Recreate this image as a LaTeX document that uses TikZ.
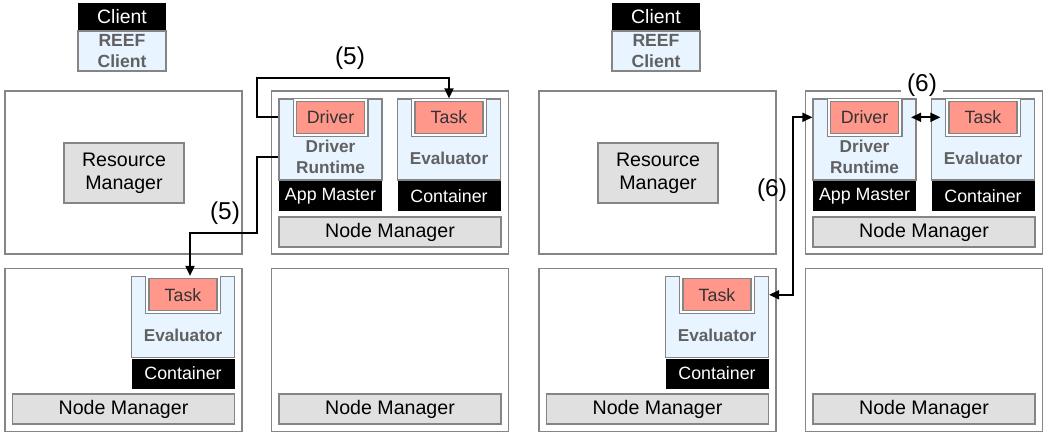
\documentclass[tikz,border=0pt]{standalone}
\usepackage{fontspec}
\setmainfont{Liberation Sans}
\usepackage{xcolor}
\usetikzlibrary{arrows.meta}

\definecolor{paleblue}{HTML}{E8F4FF}
\definecolor{salmon}{HTML}{FF978B}
\definecolor{bargrey}{HTML}{E0E0E0}
\definecolor{edgegrey}{HTML}{858585}
\definecolor{labelgrey}{HTML}{616161}
\definecolor{inkgrey}{HTML}{333333}

\begin{document}
\begin{tikzpicture}[x=0.5pt, y=-0.5pt,
  every node/.style={inner sep=0pt},
  host/.style={draw=edgegrey, line width=0.6pt, fill=white, minimum width=118.5pt, minimum height=81.5pt},
  mgr/.style={draw=edgegrey, line width=0.6pt, fill=bargrey, align=center, font=\fontsize{9.8}{11.5}\selectfont},
  nmbar/.style={mgr, minimum width=111pt, minimum height=15pt},
  column/.style={draw=edgegrey, line width=0.6pt, fill=paleblue, minimum width=51.5pt, minimum height=40.5pt},
  header/.style={fill=black, text=white, minimum width=51.5pt, minimum height=15pt, font=\fontsize{8.9}{10}\selectfont},
  slot/.style={fill=white, minimum width=37pt, minimum height=18.5pt},
  slotedge/.style={draw=edgegrey, line width=0.6pt},
  proc/.style={draw=edgegrey, line width=0.6pt, fill=salmon, text=inkgrey, minimum width=34pt, minimum height=16pt, font=\fontsize{8.9}{10}\selectfont},
  tag/.style={text=labelgrey, align=center, font=\bfseries\fontsize{8.6}{10.5}\selectfont},
  clienthead/.style={fill=black, text=white, minimum width=44pt, minimum height=13.5pt, font=\fontsize{9.7}{11}\selectfont},
  clientbody/.style={draw=edgegrey, line width=0.6pt, fill=paleblue, minimum width=44pt, minimum height=20pt, tag, font=\bfseries\fontsize{8.8}{10.5}\selectfont},
  steplabel/.style={font=\fontsize{12.2}{14}\selectfont},
  flow/.style={line width=0.9pt, -{Triangle[length=5pt,width=4.5pt]}},
  both/.style={line width=0.9pt, {Triangle[length=5pt,width=4.5pt]}-{Triangle[length=5pt,width=4.5pt]}}]
\useasboundingbox (0,0) rectangle (1048,432);

% the same cluster twice, side by side
\foreach \s/\dx in {a/0,b/534}{
\begin{scope}[shift={(\dx,0)}]
  % client
  \node[clientbody] (clb\s) at (122,51) {REEF\\Client};
  \node[clienthead, anchor=south] (clh\s) at (clb\s.north) {Client};

  % machines
  \node[host] (hrm\s) at (123.5,172.5) {};
  \node[host] (hup\s) at (390,172.5) {};
  \node[host] (hlo\s) at (123.5,350) {};
  \node[host] (hlr\s) at (390,350) {};
  \node[mgr, minimum width=60pt, minimum height=30pt] (rm\s) at (124,173) {Resource\\Manager};

  % app master with the driver
  \node[column] (am\s) at (330.5,139.5) {};
  \node[header, anchor=north] (amh\s) at (am\s.south) {App Master};
  \node[slot, anchor=north] (sd\s) at (am\s.north) {};
  \draw[slotedge] (sd\s.north west) |- (sd\s.south) -| (sd\s.north east);
  \node[proc] (drv\s) at (sd\s.center) {Driver};
  \node[tag] (rt\s) at (330.5,157) {Driver\\Runtime};

  % evaluator next to it
  \node[column] (ev\s) at (449,139.5) {};
  \node[header, anchor=north] (evh\s) at (ev\s.south) {Container};
  \node[slot, anchor=north] (se\s) at (ev\s.north) {};
  \draw[slotedge] (se\s.north west) |- (se\s.south) -| (se\s.north east);
  \node[proc] (tk\s) at (se\s.center) {Task};
  \node[tag] (et\s) at (449,158) {Evaluator};
  \node[nmbar] (nm\s) at (390,232) {Node Manager};

  % evaluator on the lower machine
  \node[column] (evl\s) at (183,317) {};
  \node[header, anchor=north] (evlh\s) at (evl\s.south) {Container};
  \node[slot, anchor=north] (sel\s) at (evl\s.north) {};
  \draw[slotedge] (sel\s.north west) |- (sel\s.south) -| (sel\s.north east);
  \node[proc] (tkl\s) at (sel\s.center) {Task};
  \node[tag] (etl\s) at (183,335) {Evaluator};
  \node[nmbar] (nml\s) at (123.5,409) {Node Manager};
  \node[nmbar] (nmr\s) at (390,409) {Node Manager};
\end{scope}
}

% (5) driver submits tasks
\coordinate (upA) at (257,78);
\coordinate (downA) at (257,233);
\coordinate (dropA) at (190,233);
\draw[flow] (ama.west |- drva) -| (upA) -| (sea.north);
\draw[flow] (ama.west |- rta) -| (downA) -- (dropA) -- (dropA |- evla.north);
\node[steplabel] (s5a) at (350,58) {(5)};
\node[steplabel] (s5b) at (225,213) {(5)};

% (6) driver and tasks talk
\draw[both, shorten <=6pt, shorten >=4pt] (drvb.east) -- (tkb.west);
\node[steplabel, fill=white, inner xsep=3pt, inner ysep=0.5pt] (s6a) at (922,85) {(6)};
\coordinate (riseB) at (793,200);
\draw[both] (amb.west |- drvb) -| (riseB) |- (evlb.east |- tklb);
\node[steplabel] (s6b) at (772,190) {(6)};
\end{tikzpicture}
\end{document}
